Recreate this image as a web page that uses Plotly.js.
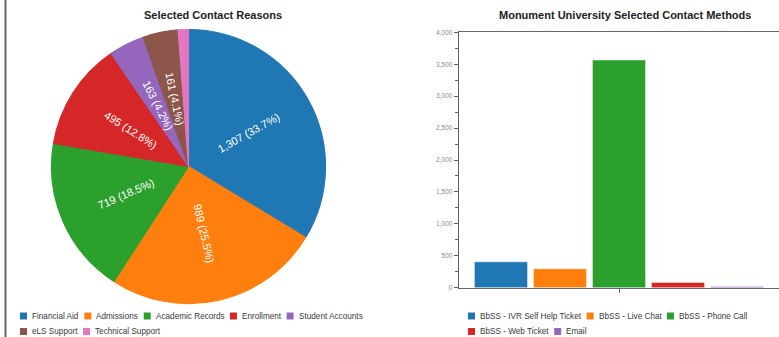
<!DOCTYPE html>
<html><head><meta charset="utf-8">
<script src="https://cdn.plot.ly/plotly-3.0.1.min.js"></script>
<style>html,body{margin:0;padding:0;background:#fff;}#chart{width:779px;height:337px;}</style>
</head><body><div id="chart"></div>
<script>
// ---- data ----
const reasonLabels = ['Financial Aid', 'Admissions', 'Academic Records', 'Enrollment', 'Student Accounts', 'eLS Support', 'Technical Support'];
const reasonValues = [1307, 989, 719, 495, 163, 161, 47];
const reasonShowLabel = [true, true, true, true, true, true, false];
const methodLabels = ['BbSS - IVR Self Help Ticket', 'BbSS - Live Chat', 'BbSS - Phone Call', 'BbSS - Web Ticket', 'Email'];
const methodValues = [405, 295, 3565, 82, 20];
const methodCategory = ['Contact Methods'];
const pieTitle = 'Selected Contact Reasons';
const barTitle = 'Monument University Selected Contact Methods';

// ---- styles ----
const palette = ['#1f77b4', '#ff7f0e', '#2ca02c', '#d62728', '#9467bd', '#8c564b', '#e377c2'];
const W = 779, H = 337;
const FONT = '"Liberation Sans", Arial, Helvetica, sans-serif';
const px = x => x / W;
const py = y => 1 - y / H;
const PIE_CX = 188.5, PIE_CY = 166.5, PIE_R = 137;

const pieTrace = {
  type: 'pie',
  labels: reasonLabels,
  values: reasonValues,
  sort: false,
  direction: 'clockwise',
  rotation: 0,
  marker: {colors: palette.slice(0, reasonLabels.length), line: {color: palette.slice(0, reasonLabels.length), width: 1.2}},
  textinfo: 'none',
  domain: {x: [px(PIE_CX - PIE_R), px(PIE_CX + PIE_R)], y: [py(PIE_CY + PIE_R), py(PIE_CY - PIE_R)]},
  hoverinfo: 'label+value+percent',
  showlegend: false
};

const barTraces = methodLabels.map((name, i) => ({
  type: 'bar',
  name: name,
  x: methodCategory,
  y: [methodValues[i]],
  marker: {color: palette[i], line: {color: 'rgba(255,255,255,0.45)', width: 1}},
  xaxis: 'x', yaxis: 'y',
  showlegend: false
}));

const shapes = [];
const annotations = [];

// ---- radial slice labels (value (percent)), placed at the slice mid-angle ----
const total = reasonValues.reduce((a, b) => a + b, 0);
const fmt = v => v.toLocaleString('en-US');
let cum = 0;
reasonValues.forEach((v, i) => {
  const frac = v / total;
  const mid = (cum + frac / 2) * 360; // degrees clockwise from 12 o'clock
  cum += frac;
  if (!reasonShowLabel[i]) return;
  const rad = mid * Math.PI / 180;
  const rr = PIE_R * 0.5;
  const x = PIE_CX + rr * Math.sin(rad);
  const y = PIE_CY - rr * Math.cos(rad);
  const ang = mid <= 180 ? mid - 90 : mid - 270;
  annotations.push({xref: 'paper', yref: 'paper', x: px(x), y: py(y), xanchor: 'center', yanchor: 'middle',
    text: fmt(v) + ' (' + (frac * 100).toFixed(1) + '%)', textangle: ang, showarrow: false,
    borderpad: 0, borderwidth: 0, font: {size: 11, color: '#ffffff', family: FONT}});
});

// ---- compact legends ----
const cv = document.createElement('canvas').getContext('2d');
const LFS = 8.2;
function textW(t) { cv.font = LFS + 'px ' + FONT; return cv.measureText(t).width; }
function legend(labels, colors, x0, xMax, rows) {
  let x = x0, r = 0;
  labels.forEach((lab, i) => {
    const w = 7 + 5 + textW(lab);
    if (x + w > xMax && x > x0) { r += 1; x = x0; }
    const yc = rows[r];
    shapes.push({type: 'rect', xref: 'paper', yref: 'paper', x0: px(x), x1: px(x + 7), y0: py(yc + 3.5), y1: py(yc - 3.5),
      fillcolor: colors[i], line: {width: 0}, layer: 'above'});
    annotations.push({xref: 'paper', yref: 'paper', x: px(x + 12), y: py(yc), xanchor: 'left', yanchor: 'middle',
      text: lab, showarrow: false, borderpad: 0, borderwidth: 0, font: {size: LFS, color: '#3a3a3a', family: FONT}});
    x += w + 5.5;
  });
}
legend(reasonLabels, palette, 20, 385, [316, 331.5]);
legend(methodLabels, palette, 468, 776, [316, 331.5]);

annotations.push({xref: 'paper', yref: 'paper', x: px(213), y: py(15.5), xanchor: 'center', yanchor: 'middle',
  text: '<b>' + pieTitle + '</b>', showarrow: false, font: {size: 11, color: '#222', family: FONT}});
annotations.push({xref: 'paper', yref: 'paper', x: px(625), y: py(15.5), xanchor: 'center', yanchor: 'middle',
  text: '<b>' + barTitle + '</b>', showarrow: false, font: {size: 11, color: '#222', family: FONT}});

shapes.push({type: 'line', xref: 'paper', yref: 'paper', x0: px(5.5), x1: px(5.5), y0: 0, y1: 1, line: {color: '#666', width: 2}});

const layout = {
  width: W, height: H,
  margin: {l: 0, r: 0, t: 0, b: 0, pad: 0},
  paper_bgcolor: '#fff', plot_bgcolor: 'rgba(0,0,0,0)',
  font: {family: FONT},
  showlegend: false,
  barmode: 'group',
  bargap: 0.078,
  bargroupgap: 0.1,
  xaxis: {
    domain: [px(459), 1], type: 'category', range: [-0.5, 0.5], fixedrange: true,
    showline: true, mirror: true, linecolor: '#666', linewidth: 1.5,
    ticks: 'outside', ticklen: 4, tickcolor: '#666', showticklabels: false, showgrid: false, zeroline: false
  },
  yaxis: {
    domain: [py(287.7), py(32.3)], range: [0, 4000], tick0: 0, dtick: 500, tickformat: ',',
    showline: true, linecolor: '#666', linewidth: 1.5,
    ticks: 'outside', ticklen: 4, tickcolor: '#666', tickwidth: 1,
    tickfont: {size: 6.5, color: '#7d8aa6', family: FONT},
    minor: {dtick: 250, ticks: 'outside', ticklen: 2.5, tickcolor: '#666', showgrid: false},
    showgrid: false, zeroline: false
  },
  shapes: shapes,
  annotations: annotations
};

Plotly.newPlot('chart', [pieTrace].concat(barTraces), layout, {displayModeBar: false, staticPlot: true});
</script>
</body></html>
